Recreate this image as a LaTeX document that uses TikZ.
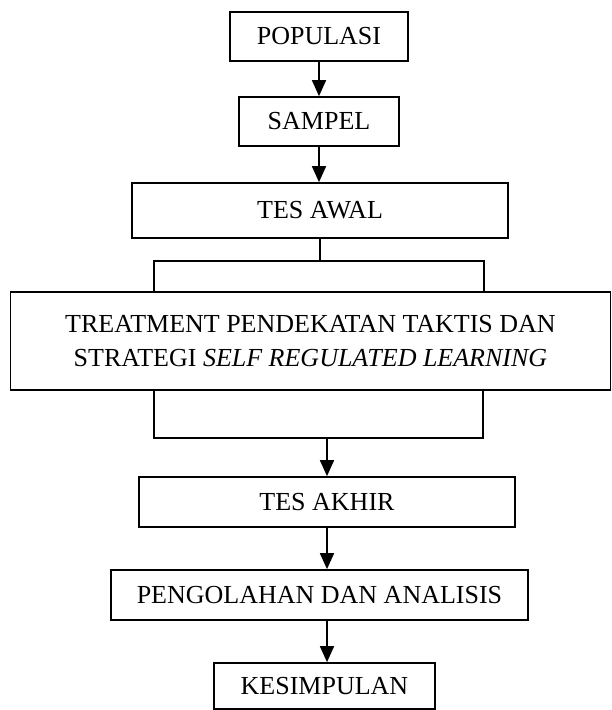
\documentclass[tikz,border=0pt]{standalone}
\usepackage{fontspec}
\setmainfont{Liberation Serif}
\usetikzlibrary{arrows.meta}
\begin{document}
\begin{tikzpicture}[x=1pt,y=-1pt,
  box/.style={draw,line width=1.7pt,inner sep=0pt,align=center,
    font=\fontsize{26}{34}\selectfont},
  link/.style={line width=1.7pt},
  flow/.style={link,-{Triangle[length=16pt,width=14pt]}}]
\useasboundingbox (0,0) rectangle (612,710);

% process boxes
\node[box,minimum width=178pt,minimum height=49pt] (pop) at (319,36.5) {POPULASI};
\node[box,minimum width=160pt,minimum height=49pt] (sam) at (319,121.5) {SAMPEL};
\node[box,minimum width=376pt,minimum height=55pt] (awal) at (320,210.5) {TES AWAL};
\node[box,minimum width=600pt,minimum height=98pt] (treat) at (310.5,341)
  {TREATMENT PENDEKATAN TAKTIS DAN\\STRATEGI \textit{SELF REGULATED LEARNING}};
\node[box,minimum width=376pt,minimum height=50pt] (akhir) at (327,502) {TES AKHIR};
\node[box,minimum width=417pt,minimum height=50pt] (olah) at (319.5,595) {PENGOLAHAN DAN ANALISIS};
\node[box,minimum width=221pt,minimum height=46pt] (kes) at (324.5,686) {KESIMPULAN};

% bracket corners
\coordinate (ul) at (154,261);
\coordinate (ur) at (484,261);
\coordinate (ll) at (154,438);
\coordinate (lr) at (483,438);

% arrows at the top
\draw[flow] (pop.south) -- (sam.north);
\draw[flow] (sam.south) -- (sam.south |- awal.north);

% bracket above the treatment
\draw[link] (awal.south) -- (awal.south |- ul);
\draw[link] (ul |- treat.north) -- (ul) -- (ur) -- (ur |- treat.north);

% bracket below the treatment
\draw[link] (ll |- treat.south) -- (ll) -- (lr) -- (lr |- treat.south);
\draw[flow] (akhir.north |- ll) -- (akhir.north);

% arrows at the bottom
\draw[flow] (akhir.south) -- (akhir.south |- olah.north);
\draw[flow] (akhir.south |- olah.south) -- (akhir.south |- kes.north);
\end{tikzpicture}
\end{document}
